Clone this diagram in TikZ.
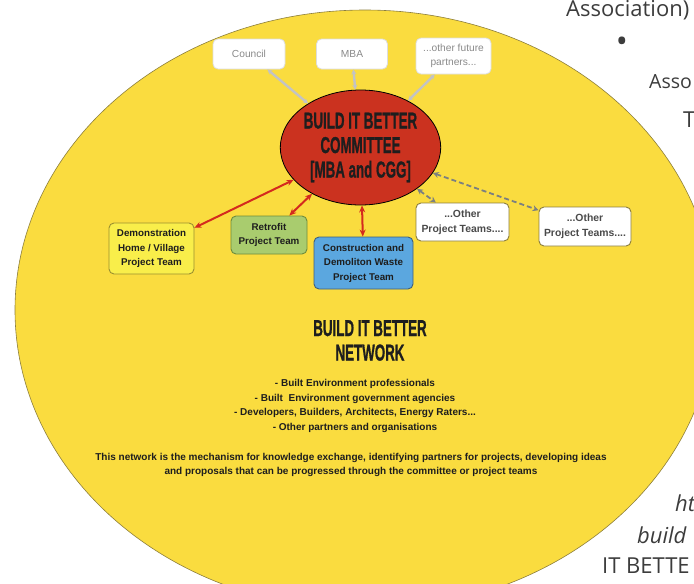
\documentclass[tikz,border=0pt]{standalone}
\usepackage{fontspec}
\setmainfont{Liberation Sans}
\newfontfamily\slidefont{Open Sans}
\newfontfamily\condfont{Liberation Sans}[FakeBold=1.2]
\usetikzlibrary{arrows.meta,shapes.geometric}
\definecolor{bgyellow}{HTML}{FADC3F}
\definecolor{bgedge}{HTML}{8C7E3C}
\definecolor{comred}{HTML}{CB321F}
\definecolor{arrred}{HTML}{D42A1E}
\definecolor{demofill}{HTML}{F9EE4A}
\definecolor{demoedge}{HTML}{9A9030}
\definecolor{retfill}{HTML}{A9CC6E}
\definecolor{retedge}{HTML}{6E8C3C}
\definecolor{cdfill}{HTML}{5BA7DF}
\definecolor{cdedge}{HTML}{3F5F7A}
\definecolor{othedge}{HTML}{8C7E3C}
\definecolor{partneredge}{HTML}{DDDDDD}
\definecolor{grayline}{HTML}{C3C3C3}
\definecolor{dashgray}{HTML}{7C8080}
\definecolor{partnertext}{HTML}{8A8A8A}
\definecolor{othtext}{HTML}{4A4A4A}
\definecolor{slidetext}{HTML}{3C3C3C}
\definecolor{boxtext}{HTML}{1E1E1E}
\newcommand{\condtxt}[1]{\scalebox{0.58}[1]{\condfont\bfseries #1}}
\tikzset{
  teambox/.style={draw, rounded corners=5pt, line width=0.9pt, align=center, inner sep=1pt,
    font=\bfseries\fontsize{9.8}{14.5}\selectfont, text=boxtext},
  otherbox/.style={teambox, draw=othedge, fill=white, text=othtext, font=\bfseries\fontsize{10.4}{15}\selectfont},
  partnerbox/.style={draw=partneredge, fill=white, rounded corners=5pt, line width=0.8pt,
    align=center, inner sep=1pt, font=\fontsize{10.2}{14}\selectfont, text=partnertext},
  redlink/.style={draw=arrred, line width=2pt, {Stealth[length=7pt,width=6pt]}-{Stealth[length=7pt,width=6pt]}},
  graylink/.style={draw=grayline, line width=2.4pt, {Stealth[length=5pt,width=5pt]}-{Stealth[length=5pt,width=5pt]}},
  dashlink/.style={draw=dashgray, line width=1.8pt, dash pattern=on 5pt off 3pt,
    {Stealth[length=6pt,width=6pt]}-{Stealth[length=6pt,width=6pt]}},
  slidetxt/.style={inner sep=0pt, anchor=base west, text=slidetext, font=\slidefont\fontsize{22}{26}\selectfont},
  condtitle/.style={align=center, inner sep=0pt, text=boxtext, font=\fontsize{23}{24.5}\selectfont},
  bodytxt/.style={align=center, inner sep=0pt, text=boxtext, font=\bfseries\fontsize{10}{14.5}\selectfont},
}
\begin{document}
\begin{tikzpicture}[x=1pt,y=-1pt]
\useasboundingbox (0,0) rectangle (694,584);
\begin{scope}
\clip (0,0) rectangle (694,584);
\fill[bgyellow, draw=bgedge, line width=0.6pt] (365,310) ellipse [x radius=350, y radius=300];
\node[slidetxt] (s1) at (566,16) {Association)};
\node[slidetxt, anchor=center, font=\slidefont\fontsize{32}{32}\selectfont] (s2) at (622,45) {•};
\node[slidetxt, font=\slidefont\fontsize{19.5}{24}\selectfont] (s3) at (649,88) {Asso};
\node[slidetxt] (s4) at (683,127) {T};
\node[slidetxt, font=\slidefont\itshape\fontsize{22}{26}\selectfont] (s5) at (675,511) {ht};
\node[slidetxt, font=\slidefont\itshape\fontsize{22}{26}\selectfont] (s6) at (637,543) {build};
\node[slidetxt] (s7) at (602,573) {IT BETTE};
\end{scope}

% committee
\node[ellipse, draw=black, line width=0.8pt, fill=comred, minimum width=139pt, minimum height=115pt,
  inner sep=0pt, condtitle] (committee) at (360.5,147.5)
  {\condtxt{BUILD IT BETTER}\\\condtxt{COMMITTEE}\\\condtxt{[MBA and CGG]}};

% partners
\node[partnerbox, minimum width=72pt, minimum height=30pt] (council) at (249,54) {Council};
\node[partnerbox, minimum width=71pt, minimum height=30pt] (mba) at (352,54) {MBA};
\node[partnerbox, minimum width=75pt, minimum height=36pt] (future) at (453.5,56) {...other future\\partners...};

% teams
\node[teambox, draw=demoedge, fill=demofill, minimum width=85pt, minimum height=51pt] (demo) at (151.5,248.5)
  {Demonstration\\Home / Village\\Project Team};
\node[teambox, draw=retedge, fill=retfill, minimum width=76pt, minimum height=38pt] (retrofit) at (269,235)
  {Retrofit\\Project Team};
\node[teambox, draw=cdedge, fill=cdfill, minimum width=99pt, minimum height=52pt] (cd) at (363.5,263)
  {Construction and\\Demoliton Waste\\Project Team};
\node[otherbox, minimum width=93pt, minimum height=38pt] (other1) at (462.5,222) {...Other\\Project Teams....};
\node[otherbox, minimum width=92pt, minimum height=39pt] (other2) at (585,226.5) {...Other\\Project Teams....};

% links
\draw[graylink] (council) -- (committee);
\draw[graylink] (mba) -- (committee);
\draw[graylink] (future) -- (committee);
\draw[redlink] (committee) -- (demo);
\draw[redlink] (committee) -- (retrofit);
\draw[redlink] (committee) -- (cd);
\draw[dashlink] (committee) -- (other1);
\draw[dashlink] (committee) -- (other2);

% network text
\node[condtitle] (nettitle) at (370,340.5) {\condtxt{BUILD IT BETTER}\\\condtxt{NETWORK}};
\node[bodytxt] (members) at (355,406)
  {- Built Environment professionals\\- Built\ \ Environment government agencies\\- Developers, Builders, Architects, Energy Raters...\\- Other partners and organisations};
\node[bodytxt] (purpose) at (351,465)
  {This network is the mechanism for knowledge exchange, identifying partners for projects, developing ideas\\and proposals that can be progressed through the committee or project teams};
\end{tikzpicture}
\end{document}
